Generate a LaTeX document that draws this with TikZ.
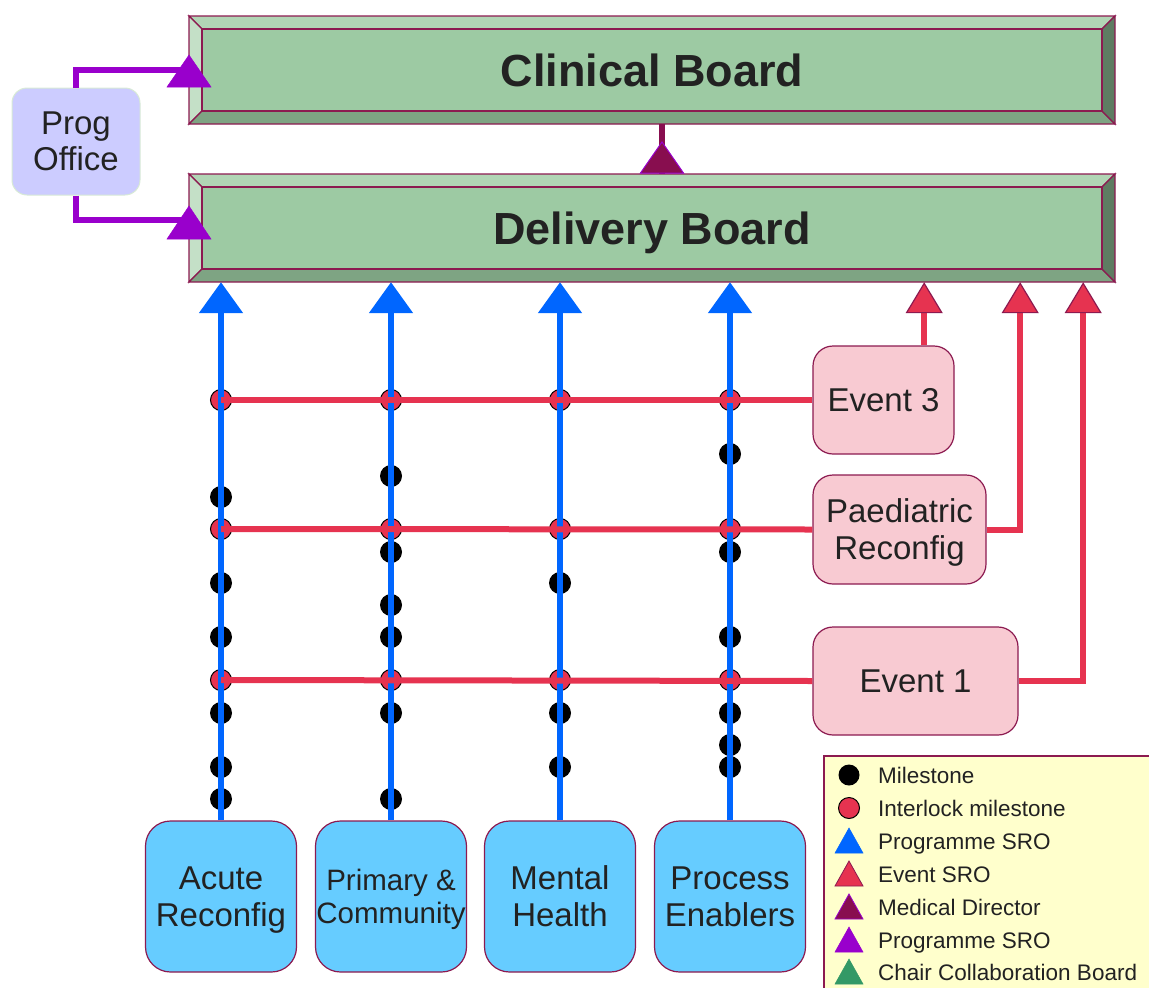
\documentclass[tikz,border=0pt]{standalone}
\usepackage{fontspec}
\setmainfont{Liberation Sans}
\usetikzlibrary{arrows.meta,calc}
\definecolor{bord}{HTML}{8C1A50}
\definecolor{face}{HTML}{9DCAA3}
\definecolor{bevtop}{HTML}{B1D5B5}
\definecolor{bevleft}{HTML}{C4E0C7}
\definecolor{bevbot}{HTML}{7EA483}
\definecolor{bevright}{HTML}{5E7C62}
\definecolor{progblue}{HTML}{0066FF}
\definecolor{evred}{HTML}{E63350}
\definecolor{medred}{HTML}{880E4F}
\definecolor{purp}{HTML}{9900CC}
\definecolor{chairgreen}{HTML}{339966}
\definecolor{txt}{HTML}{222222}
\definecolor{evfill}{HTML}{F8CAD2}
\definecolor{workfill}{HTML}{66CCFF}
\definecolor{officefill}{HTML}{CCCCFF}
\definecolor{officeedge}{HTML}{D8EAD6}
\definecolor{legfill}{HTML}{FFFFCC}
\newcommand\bevelboard[4]{%
  \path[draw=bord,line width=1.3pt,fill=bevtop] (#1,#2) -- (#3,#2) -- (#3-13,#2+13) -- (#1+13,#2+13) -- cycle;
  \path[draw=bord,line width=1.3pt,fill=bevleft] (#1,#2) -- (#1+13,#2+13) -- (#1+13,#4-13) -- (#1,#4) -- cycle;
  \path[draw=bord,line width=1.3pt,fill=bevbot] (#1,#4) -- (#1+13,#4-13) -- (#3-13,#4-13) -- (#3,#4) -- cycle;
  \path[draw=bord,line width=1.3pt,fill=bevright] (#3,#2) -- (#3,#4) -- (#3-13,#4-13) -- (#3-13,#2+13) -- cycle;
  \path[draw=bord,line width=1.3pt,fill=face] (#1+13,#2+13) rectangle (#3-13,#4-13);
}
\begin{document}
\begin{tikzpicture}[x=1pt,y=-1pt,
  boardtext/.style={minimum width=926pt,minimum height=108pt,inner sep=0pt,text height=32.2pt,text depth=0pt,
    font=\fontsize{45}{54}\selectfont\bfseries,text=txt},
  officebox/.style={draw=officeedge,line width=1pt,fill=officefill,rounded corners=15pt,minimum width=128pt,minimum height=107pt,
    inner sep=0pt,align=center,text=txt,font=\fontsize{33}{36}\selectfont},
  eventbox/.style={draw=bord,line width=1.2pt,fill=evfill,rounded corners=20pt,minimum height=108pt,
    inner sep=0pt,text depth=0pt,align=center,text=txt,font=\fontsize{33}{37}\selectfont},
  workbox/.style={draw=bord,line width=1.2pt,fill=workfill,rounded corners=25pt,minimum width=151pt,minimum height=151pt,
    inner sep=0pt,text depth=0pt,align=center,text=txt,font=\fontsize{33}{37}\selectfont},
  dot/.style={circle,fill=black,inner sep=0pt,minimum size=22pt},
  ilock/.style={circle,fill=evred,draw=black,line width=1pt,inner sep=0pt,minimum size=21pt},
  progline/.style={progblue,line width=5.5pt,-{Triangle[width=43pt,length=31pt]}},
  evline/.style={evred,line width=6pt,-{Triangle[width=37pt,length=31pt,fill=evred,color=bord,line width=1.2pt]}},
  evplain/.style={evred,line width=6pt},
  officeline/.style={purp,line width=5.5pt},
  medline/.style={medred,line width=5.5pt},
  legtext/.style={anchor=west,inner sep=0pt,text height=16.1pt,text depth=0pt,text=txt,font=\fontsize{22.5}{26}\selectfont},
  pics/utri/.style args={#1/#2}{code={\path[pic actions] (-#1/2,0) -- (#1/2,0) -- (0,-#2) -- cycle;}}
]
\useasboundingbox (0,0) rectangle (1149,988);

% boards
\bevelboard{189}{16}{1115}{124}
\bevelboard{189}{174}{1115}{282}
\node[boardtext] (clinical) at (652,70) {Clinical Board};
\node[boardtext] (delivery) at (652,228) {Delivery Board};

% programme office
\node[officebox] (prog) at (76,141.5) {Prog\\Office};
\coordinate (po1) at (189,70);
\coordinate (po2) at (189,220);
\draw[officeline] (prog.north) |- (po1);
\draw[officeline] (prog.south) |- (po2);
\pic[fill=purp,draw=purp,line width=0.5pt] at (189,87) {utri=44/32};
\pic[fill=purp,draw=purp,line width=0.5pt] at (189,239) {utri=44/33};

% medical director
\coordinate (md1) at ([xshift=10pt]clinical.south);
\coordinate (md2) at ([xshift=10pt]delivery.north);
\draw[medline] (md2) -- (md1);
\pic[fill=medred,draw=purp,line width=1pt] at (662,173) {utri=43/31};

% workstream boxes
\node[workbox] (acute) at (221,896.5) {Acute\\Reconfig};
\node[workbox,font=\fontsize{29.5}{33}\selectfont] (primary) at (391,896.5) {Primary \&\\Community};
\node[workbox] (mental) at (560,896.5) {Mental\\Health};
\node[workbox] (process) at (730,896.5) {Process\\Enablers};

% event boxes
\node[eventbox,minimum width=141pt] (e3) at (883.5,400) {Event 3};
\node[eventbox,minimum width=173pt,minimum height=109pt] (pr) at (899.5,529.5) {Paediatric\\Reconfig};
\node[eventbox,minimum width=205pt] (e1) at (915.5,681) {Event 1};

% milestones
\foreach \yy [count=\i] in {497,583,637,713,767,799} \node[dot] (a\i) at (221,\yy) {};
\foreach \yy [count=\i] in {476,552,605,637,713,799} \node[dot] (b\i) at (391,\yy) {};
\foreach \yy [count=\i] in {583,713,767} \node[dot] (c\i) at (560,\yy) {};
\foreach \yy [count=\i] in {454,552,637,713,745,767} \node[dot] (d\i) at (730,\yy) {};

% interlock milestones
\foreach \xx [count=\j] in {221,391,560,730} {
  \node[ilock] (i3-\j) at (\xx,400) {};
  \node[ilock] (i2-\j) at (\xx,529) {};
  \node[ilock] (i1-\j) at (\xx,680) {};
}

% programme lines
\draw[progline] (acute.north) -- (acute.north |- delivery.south);
\draw[progline] (primary.north) -- (primary.north |- delivery.south);
\draw[progline] (mental.north) -- (mental.north |- delivery.south);
\draw[progline] (process.north) -- (process.north |- delivery.south);

% event lines
\draw[evplain] (i3-1.center) -- (e3.west);
\draw[evplain] (i2-1.center) -- (pr.west);
\draw[evplain] (i1-1.center) -- (e1.west);
\coordinate (d3) at ([xshift=-191pt]delivery.south east);
\coordinate (dd2) at ([xshift=-95pt]delivery.south east);
\coordinate (dd1) at ([xshift=-32pt]delivery.south east);
\draw[evline] (d3 |- e3.north) -- (d3);
\draw[evline] (pr.east) -| (dd2);
\draw[evline] (e1.east) -| (dd1);

% legend
\fill[legfill] (824,756) rectangle (1149,988);
\draw[bord,line width=1.2pt] (1149,756) -- (824,756) -- (824,988);
\node[dot,minimum size=21pt] (lg1) at (849,775) {};
\node[ilock] (lg2) at (849,808) {};
\pic[fill=progblue,draw=progblue,line width=0.5pt] at (849,853) {utri=28/25};
\pic[fill=evred,draw=bord,line width=0.8pt] at (849,886) {utri=28/25};
\pic[fill=medred,draw=purp,line width=0.8pt] at (849,919) {utri=28/25};
\pic[fill=purp,draw=purp,line width=0.5pt] at (849,952) {utri=28/25};
\pic[fill=chairgreen,draw=chairgreen,line width=0.5pt] at (849,984) {utri=28/25};
\node[legtext] at (878,775) {Milestone};
\node[legtext] at (878,808) {Interlock milestone};
\node[legtext] at (878,841) {Programme SRO};
\node[legtext] at (878,874) {Event SRO};
\node[legtext] at (878,907) {Medical Director};
\node[legtext] at (878,940) {Programme SRO};
\node[legtext] at (878,972) {Chair Collaboration Board};
\end{tikzpicture}
\end{document}
